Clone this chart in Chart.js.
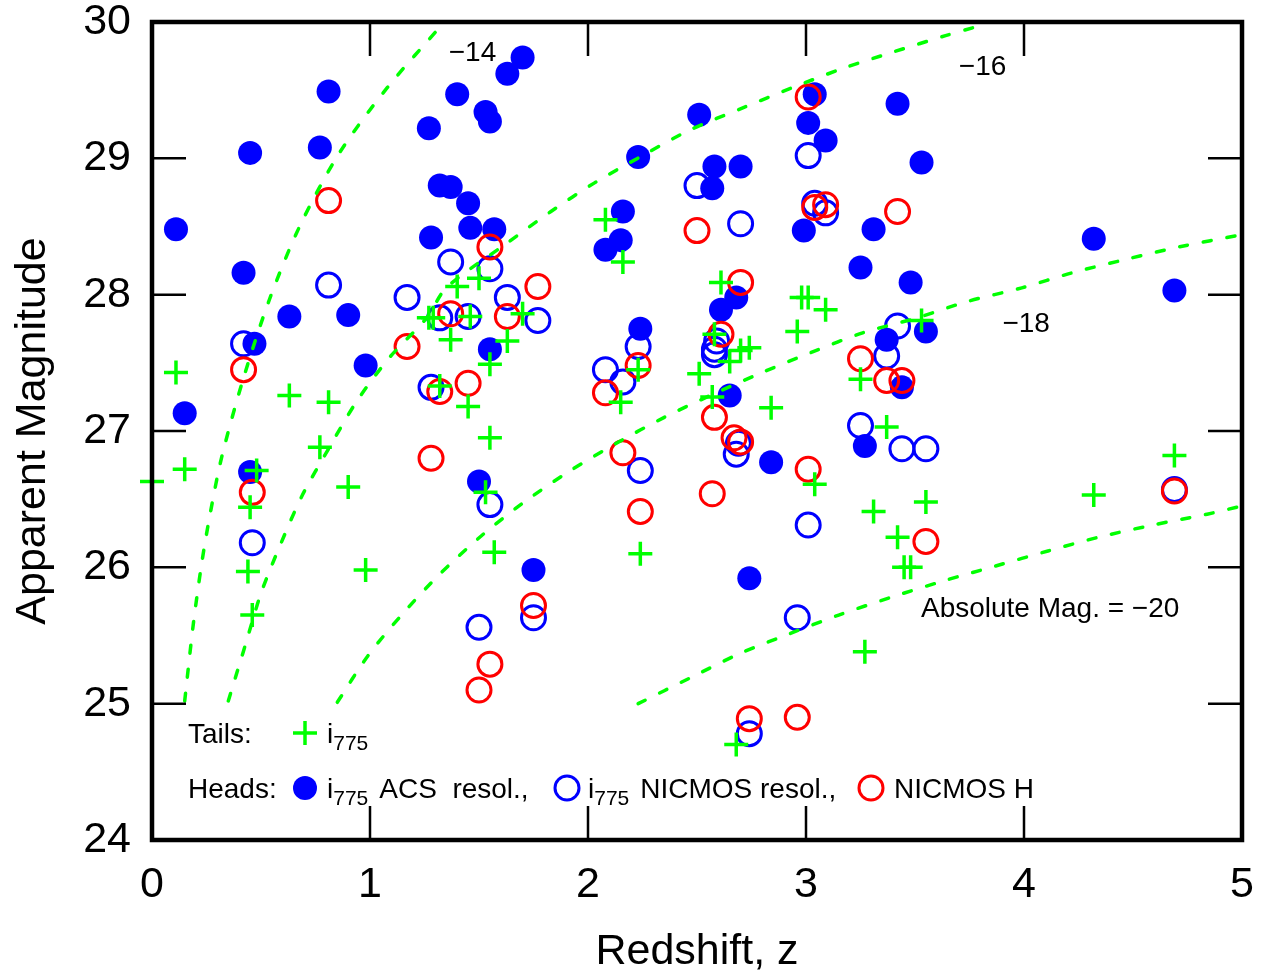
<!DOCTYPE html>
<html>
<head>
<meta charset="utf-8">
<script src="https://cdn.jsdelivr.net/npm/chart.js@4.4.1/dist/chart.umd.min.js"></script>
<style>
  html, body { margin: 0; padding: 0; background: #fff; }
  canvas { display: block; }
</style>
</head>
<body>
<canvas id="zChart" width="1268" height="978"></canvas>
<script>
// tails, i775
const tailZ   = [0.00, 0.11, 0.15, 0.44, 0.45, 0.46, 0.48, 0.63, 0.77, 0.81, 0.90, 0.98,
                 1.27, 1.29, 1.32, 1.37, 1.40, 1.50, 1.46, 1.45, 1.53, 1.55, 1.55, 1.57, 1.63, 1.70,
                 2.08, 2.16, 2.15, 2.23, 2.24, 2.51, 2.58, 2.57, 2.61, 2.65, 2.70, 2.74, 2.68, 2.84,
                 2.96, 2.98, 3.01, 3.09, 3.04, 3.25, 3.31, 3.27, 3.37, 3.42, 3.45, 3.48, 3.53, 3.55,
                 4.32, 4.69];
const tailMag = [26.63, 27.43, 26.72, 25.97, 26.44, 25.65, 26.71, 27.26, 26.88, 27.21, 26.59, 25.98,
                 27.83, 27.83, 27.33, 27.67, 28.06, 28.12, 27.84, 27.18, 26.55, 27.49, 26.95, 26.11, 27.66, 27.86,
                 28.55, 28.24, 27.21, 27.45, 26.10, 27.42, 27.71, 27.25, 28.09, 27.51, 27.59, 27.61, 24.70, 27.17,
                 27.73, 27.98, 27.98, 27.89, 26.61, 27.38, 26.41, 25.38, 27.03, 26.22, 26.00, 26.00, 27.81, 26.48,
                 26.53, 26.82];

// heads, i775 ACS resolution
const acsZ   = [0.11, 0.15, 0.42, 0.45, 0.47, 0.45, 0.63, 0.77, 0.81, 0.90, 0.98,
                1.27, 1.28, 1.32, 1.37, 1.40, 1.45, 1.46, 1.53, 1.55, 1.57, 1.55, 1.50, 1.75, 1.63, 1.70,
                2.08, 2.15, 2.16, 2.24, 2.23, 2.51, 2.58, 2.57, 2.61, 2.68, 2.65, 2.70, 2.74, 2.84,
                2.99, 3.01, 3.04, 3.09, 3.25, 3.31, 3.37, 3.27, 3.44, 3.42, 3.48, 3.53, 3.55,
                4.32, 4.69];
const acsMag = [28.48, 27.13, 28.16, 29.04, 27.64, 26.70, 27.84, 29.08, 29.49, 27.85, 27.48,
                29.22, 28.42, 28.80, 28.79, 29.47, 28.67, 28.49, 29.34, 29.27, 28.48, 27.60, 26.63, 25.98, 29.62, 29.74,
                28.33, 28.40, 28.61, 27.75, 29.01, 29.32, 28.94, 28.78, 27.89, 27.98, 27.26, 28.94, 25.92, 26.77,
                28.47, 29.26, 29.47, 29.13, 28.20, 28.48, 27.67, 26.89, 27.32, 29.40, 28.09, 28.97, 27.73,
                28.41, 28.03];

// heads, i775 NICMOS resolution
const nicZ   = [0.42, 0.46, 0.81, 1.17, 1.28, 1.32, 1.37, 1.45, 1.55, 1.63, 1.77, 1.50, 1.55, 1.75,
                2.08, 2.16, 2.23, 2.24, 2.50, 2.70, 2.59, 2.58, 2.58, 2.69, 2.68,
                3.01, 3.04, 3.09, 3.01, 2.96, 2.74, 3.37, 3.42, 3.25, 3.44, 3.55, 4.69];
const nicMag = [27.64, 26.18, 28.07, 27.98, 27.32, 27.83, 28.24, 27.84, 28.19, 27.98, 27.81, 25.56, 26.46, 25.63,
                27.45, 27.36, 27.62, 26.71, 28.80, 28.52, 27.66, 27.60, 27.56, 26.91, 26.83,
                29.02, 28.67, 28.60, 26.31, 25.63, 24.78, 27.55, 27.77, 27.04, 26.87, 26.87, 26.57];

// heads, NICMOS H
const hZ   = [0.81, 0.42, 0.46, 1.17, 1.32, 1.28, 1.37, 1.63, 1.45, 1.55, 1.77, 1.50, 1.55, 1.75,
              2.08, 2.16, 2.23, 2.24, 2.50, 2.57, 2.58, 2.61, 2.67, 2.70, 2.70, 2.74,
              2.96, 3.01, 3.01, 3.04, 3.09, 3.25, 3.37, 3.44, 3.42, 3.55, 4.69];
const hMag = [28.69, 27.45, 26.55, 27.62, 27.29, 26.80, 27.86, 27.84, 27.35, 28.35, 28.06, 25.10, 25.29, 25.72,
              27.28, 26.84, 27.48, 26.41, 28.47, 26.54, 27.10, 27.71, 26.95, 26.92, 28.09, 24.89,
              24.90, 29.45, 26.72, 28.64, 28.66, 27.53, 27.37, 27.37, 28.61, 26.19, 26.56];

// lines of constant absolute magnitude
const curve14Z   = [0.15, 0.19, 0.23, 0.27, 0.32, 0.42, 0.54, 0.68, 0.86, 1.08, 1.33];
const curve14Mag = [25.02, 25.59, 26.05, 26.42, 26.81, 27.39, 27.97, 28.51, 29.04, 29.52, 29.98];
const curve16Z   = [0.35, 0.43, 0.50, 0.59, 0.69, 0.81, 0.94, 1.09, 1.26, 1.35, 1.63, 1.83, 2.03,
                    2.25, 2.47, 2.71, 2.94, 3.17, 3.40, 3.64, 3.77];
const curve16Mag = [25.02, 25.44, 25.81, 26.17, 26.53, 26.87, 27.22, 27.54, 27.83, 28.05, 28.38, 28.61, 28.82,
                    29.02, 29.21, 29.37, 29.52, 29.66, 29.78, 29.90, 29.96];
const curve18Z   = [0.85, 0.99, 1.15, 1.32, 1.51, 1.70, 1.91, 2.13, 2.35, 2.56, 2.80, 3.03, 3.26, 3.51,
                    3.74, 3.99, 4.22, 4.47, 4.71, 5.00];
const curve18Mag = [25.01, 25.35, 25.66, 25.95, 26.23, 26.47, 26.70, 26.91, 27.10, 27.26, 27.43, 27.58, 27.72, 27.83,
                    27.95, 28.05, 28.16, 28.26, 28.35, 28.44];
const curve20Z   = [2.23, 2.47, 2.70, 2.92, 3.15, 3.39, 3.63, 3.87, 4.11, 4.34, 4.59, 4.84, 5.00];
const curve20Mag = [25.00, 25.19, 25.37, 25.51, 25.65, 25.78, 25.90, 26.01, 26.12, 26.22, 26.31, 26.39, 26.45];

const curveLabels = ['\u221214', '\u221216', '\u221218', 'Absolute Mag. = \u221220'];
const curveLabelZ   = [1.47, 3.81, 4.01, 4.12];
const curveLabelMag = [29.77, 29.67, 27.78, 25.69];

const xTicks = [0, 1, 2, 3, 4, 5];
const yTicks = [24, 25, 26, 27, 28, 29, 30];

const FONT = '"Liberation Sans", Arial, Helvetica, sans-serif';
const GREEN = '#00ff00', BLUE = '#0000ff', RED = '#ff0000';

function pts(zs, ms) {
  return zs.map((z, i) => ({ x: z, y: ms[i] }));
}

function curve(zs, ms) {
  return {
    data: pts(zs, ms),
    showLine: true,
    borderColor: GREEN,
    borderWidth: 3.5,
    borderDash: [8, 16],
    borderCapStyle: 'round',
    pointRadius: 0,
    tension: 0.3,
    fill: false,
    order: 1
  };
}

// frame, inward ticks, curve labels and the two-line legend
const decorations = {
  id: 'decorations',
  afterDraw(chart) {
    const ctx = chart.ctx;
    const a = chart.chartArea;
    const sx = chart.scales.x, sy = chart.scales.y;
    ctx.save();

    ctx.strokeStyle = '#000';
    ctx.lineWidth = 2.5;
    ctx.beginPath();
    xTicks.slice(1, -1).forEach(v => {
      const px = sx.getPixelForValue(v);
      ctx.moveTo(px, a.bottom); ctx.lineTo(px, a.bottom - 34);
      ctx.moveTo(px, a.top); ctx.lineTo(px, a.top + 34);
    });
    yTicks.slice(1, -1).forEach(v => {
      const py = sy.getPixelForValue(v);
      ctx.moveTo(a.left, py); ctx.lineTo(a.left + 34, py);
      ctx.moveTo(a.right, py); ctx.lineTo(a.right - 34, py);
    });
    ctx.stroke();

    ctx.lineWidth = 4.5;
    ctx.strokeRect(a.left, a.top, a.right - a.left, a.bottom - a.top);

    ctx.fillStyle = '#000';
    ctx.textBaseline = 'middle';
    ctx.textAlign = 'center';
    ctx.font = '28px ' + FONT;
    curveLabels.forEach((t, i) => {
      ctx.fillText(t, sx.getPixelForValue(curveLabelZ[i]), sy.getPixelForValue(curveLabelMag[i]));
    });

    // legend
    ctx.textAlign = 'left';
    ctx.textBaseline = 'alphabetic';
    const subText = (x, y, rest) => {
      ctx.font = '28px ' + FONT;
      ctx.fillText('i', x, y);
      x += ctx.measureText('i').width;
      ctx.font = '21px ' + FONT;
      ctx.fillText('775', x, y + 7);
      x += ctx.measureText('775').width;
      if (rest) {
        ctx.font = '28px ' + FONT;
        ctx.fillText(rest, x + 11, y);
      }
    };
    const ring = (x, y, color) => {
      ctx.beginPath();
      ctx.lineWidth = 3;
      ctx.strokeStyle = color;
      ctx.arc(x, y, 12, 0, Math.PI * 2);
      ctx.stroke();
    };
    const x0 = a.left + 36;
    const y1 = a.bottom - 107, y2 = a.bottom - 52;
    ctx.fillStyle = '#000';
    ctx.font = '28px ' + FONT;
    ctx.fillText('Tails:', x0, y1 + 10);
    ctx.fillText('Heads:', x0, y2 + 10);

    ctx.strokeStyle = GREEN;
    ctx.lineWidth = 3.5;
    ctx.beginPath();
    ctx.moveTo(a.left + 141, y1); ctx.lineTo(a.left + 165, y1);
    ctx.moveTo(a.left + 153, y1 - 12); ctx.lineTo(a.left + 153, y1 + 12);
    ctx.stroke();
    ctx.fillStyle = '#000';
    subText(a.left + 175, y1 + 10, '');

    ctx.fillStyle = BLUE;
    ctx.beginPath();
    ctx.arc(a.left + 153, y2, 12, 0, Math.PI * 2);
    ctx.fill();
    ctx.fillStyle = '#000';
    subText(a.left + 175, y2 + 10, 'ACS  resol.,');
    ring(a.left + 415, y2, BLUE);
    ctx.fillStyle = '#000';
    subText(a.left + 436, y2 + 10, 'NICMOS resol.,');
    ring(a.left + 719, y2, RED);
    ctx.fillStyle = '#000';
    ctx.font = '28px ' + FONT;
    ctx.fillText('NICMOS H', a.left + 742, y2 + 10);

    ctx.restore();
  }
};

function noEdgePadding(s) {
  s.paddingTop = 0; s.paddingBottom = 0; s.paddingLeft = 0; s.paddingRight = 0;
}

new Chart(document.getElementById('zChart'), {
  type: 'scatter',
  data: {
    datasets: [
      {
        label: 'Tails i775',
        data: pts(tailZ, tailMag),
        pointStyle: 'cross',
        pointRadius: 12,
        borderColor: GREEN,
        borderWidth: 3.5,
        clip: false,
        order: 0
      },
      curve(curve14Z, curve14Mag),
      curve(curve16Z, curve16Mag),
      curve(curve18Z, curve18Mag),
      curve(curve20Z, curve20Mag),
      {
        label: 'NICMOS H',
        data: pts(hZ, hMag),
        pointStyle: 'circle',
        pointRadius: 12,
        backgroundColor: 'rgba(0,0,0,0)',
        borderColor: RED,
        borderWidth: 3,
        order: 2
      },
      {
        label: 'i775 ACS resol.',
        data: pts(acsZ, acsMag),
        pointStyle: 'circle',
        pointRadius: 12,
        backgroundColor: BLUE,
        borderColor: BLUE,
        borderWidth: 0,
        order: 3
      },
      {
        label: 'i775 NICMOS resol.',
        data: pts(nicZ, nicMag),
        pointStyle: 'circle',
        pointRadius: 12,
        backgroundColor: 'rgba(0,0,0,0)',
        borderColor: BLUE,
        borderWidth: 3,
        order: 4
      }
    ]
  },
  options: {
    responsive: false,
    animation: false,
    devicePixelRatio: 1,
    layout: { padding: { top: 22, right: 26, left: 0, bottom: 0 } },
    plugins: { legend: { display: false }, tooltip: { enabled: false } },
    scales: {
      x: {
        type: 'linear',
        min: 0, max: 5,
        afterBuildTicks: s => { s.ticks = xTicks.map(v => ({ value: v })); },
        ticks: { padding: 19, color: '#000', font: { family: FONT, size: 43, lineHeight: 1.2 } },
        grid: { display: false, drawTicks: false },
        border: { display: false },
        title: {
          display: true, text: 'Redshift, z', color: '#000',
          font: { family: FONT, size: 43, lineHeight: 1.2 },
          padding: { top: 0, bottom: 0 }
        },
        afterFit: s => { s.height = 138; noEdgePadding(s); }
      },
      y: {
        type: 'linear',
        min: 24, max: 30,
        afterBuildTicks: s => { s.ticks = yTicks.map(v => ({ value: v })); },
        ticks: { padding: 21, color: '#000', font: { family: FONT, size: 43, lineHeight: 1.2 } },
        grid: { display: false, drawTicks: false },
        border: { display: false },
        title: {
          display: true, text: 'Apparent Magnitude', color: '#000',
          font: { family: FONT, size: 43, lineHeight: 1.2 },
          padding: { top: 7, bottom: 0 }
        },
        afterFit: s => { s.width = 152; noEdgePadding(s); }
      }
    }
  },
  plugins: [decorations]
});
</script>
</body>
</html>
